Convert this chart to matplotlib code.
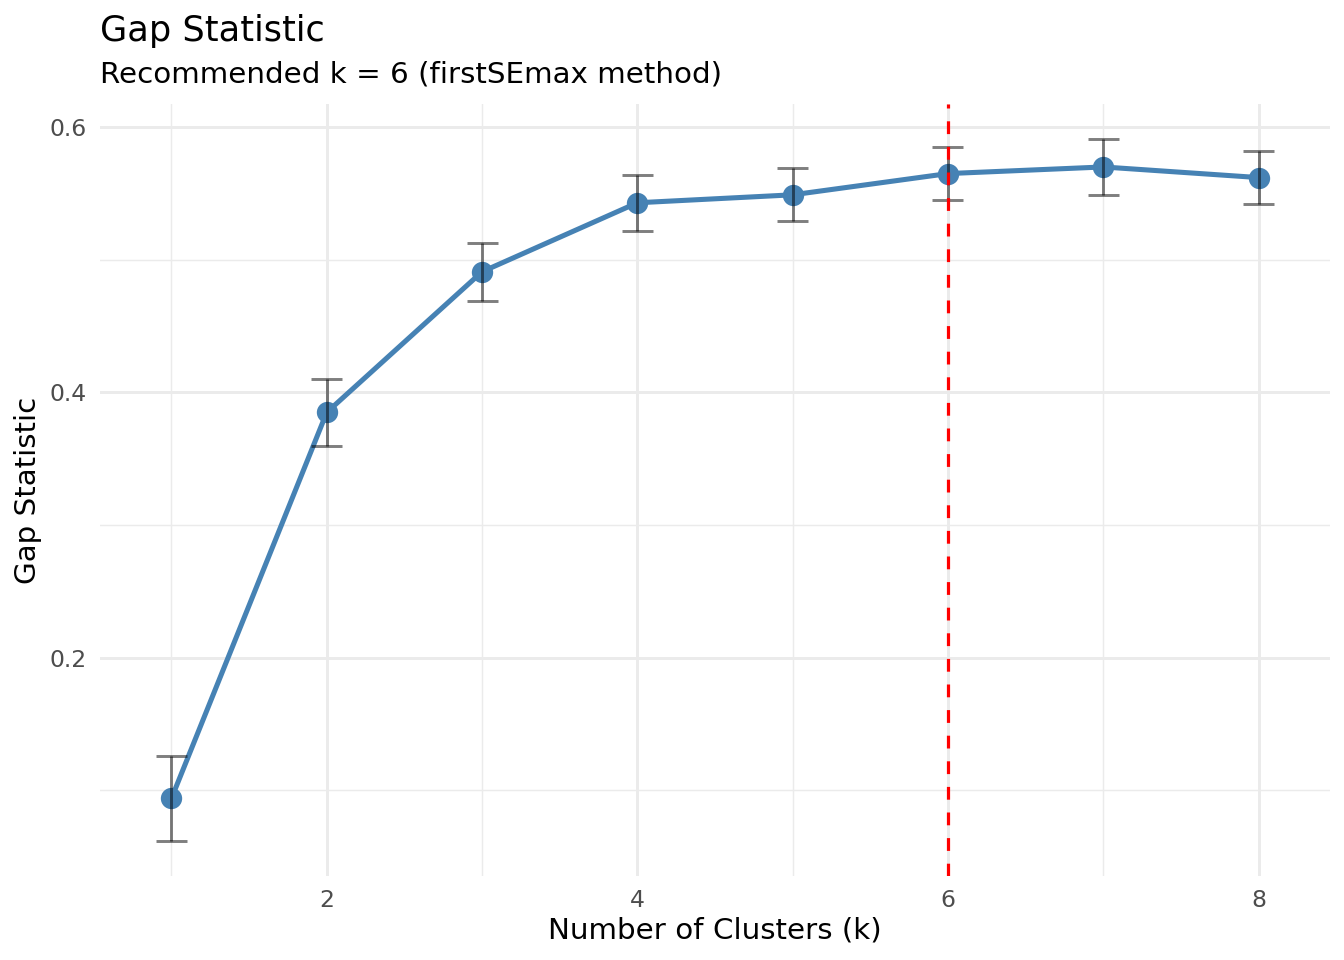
import matplotlib
matplotlib.use("Agg")
import matplotlib.pyplot as plt
import numpy as np

# Data
k_values = [1, 2, 3, 4, 5, 6, 7, 8]
gap_values = [0.094, 0.385, 0.491, 0.543, 0.549, 0.565, 0.570, 0.562]
se_values = [0.032, 0.025, 0.022, 0.021, 0.020, 0.020, 0.021, 0.020]
recommended_k = 6
x_ticks = [2, 4, 6, 8]
y_ticks = [0.2, 0.4, 0.6]
y_minor = [0.1, 0.3, 0.5]
x_minor = [1, 3, 5, 7]

title = "Gap Statistic"
subtitle = "Recommended k = 6 (firstSEmax method)"
xlabel = "Number of Clusters (k)"
ylabel = "Gap Statistic"

plt.rcParams['font.family'] = ['DejaVu Sans']

k = np.array(k_values, dtype=float)
g = np.array(gap_values)
se = np.array(se_values)
lo = g - se
hi = g + se
bar_half = 0.1

fig = plt.figure(figsize=(7, 5), dpi=192)
W, H = 1344, 960
left, right, top, bottom = 100, 1330, 104, 876
ax = fig.add_axes([left / W, 1 - bottom / H, (right - left) / W, (bottom - top) / H])

# limits with ggplot-like 5% expansion
xmin, xmax = k.min() - bar_half, k.max() + bar_half
xr = xmax - xmin
ax.set_xlim(xmin - 0.05 * xr, xmax + 0.05 * xr)
ymin, ymax = lo.min(), hi.max()
yr = ymax - ymin
ax.set_ylim(ymin - 0.05 * yr, ymax + 0.05 * yr)

# grid
for yv in y_ticks:
    ax.axhline(yv, color='#EBEBEB', lw=1.1, zorder=0)
for yv in y_minor:
    ax.axhline(yv, color='#EBEBEB', lw=0.55, zorder=0)
for xv in x_ticks:
    ax.axvline(xv, color='#EBEBEB', lw=1.1, zorder=0)
for xv in x_minor:
    ax.axvline(xv, color='#EBEBEB', lw=0.55, zorder=0)

for s in ax.spines.values():
    s.set_visible(False)

ax.plot(k, g, color='#4682B4', lw=1.9, zorder=2, solid_capstyle='butt')
ax.plot(k, g, 'o', color='#4682B4', markersize=8, markeredgewidth=0, zorder=3)

ax.vlines(k, lo, hi, color='black', alpha=0.5, lw=1.1, zorder=4)
ax.hlines(lo, k - bar_half, k + bar_half, color='black', alpha=0.5, lw=1.1, zorder=4)
ax.hlines(hi, k - bar_half, k + bar_half, color='black', alpha=0.5, lw=1.1, zorder=4)

ax.axvline(recommended_k, color='#FF0000', lw=1.2, linestyle=(0, (4, 4)), zorder=5)

ax.set_xticks(x_ticks)
ax.set_xticklabels([str(v) for v in x_ticks])
ax.set_yticks(y_ticks)
ax.set_yticklabels([f"{v:.1f}" for v in y_ticks])
ax.tick_params(length=0, labelsize=8.8, labelcolor='#4D4D4D')
ax.tick_params(axis='y', pad=5.0)
ax.tick_params(axis='x', pad=5.0)

fig.text(left / W, 1 - 41 / H, title, fontsize=13.2, ha='left', va='baseline', color='black')
fig.text(left / W, 1 - 83 / H, subtitle, fontsize=11, ha='left', va='baseline', color='black')
fig.text((left + right) / 2 / W, 1 - 938 / H, xlabel, fontsize=11, ha='center', va='baseline', color='black')
fig.text(28 / W, 1 - ((top + bottom) / 2) / H, ylabel, fontsize=11, ha='center', va='center',
         rotation=90, color='black')

fig.savefig("out.png", dpi=192, facecolor='white')
